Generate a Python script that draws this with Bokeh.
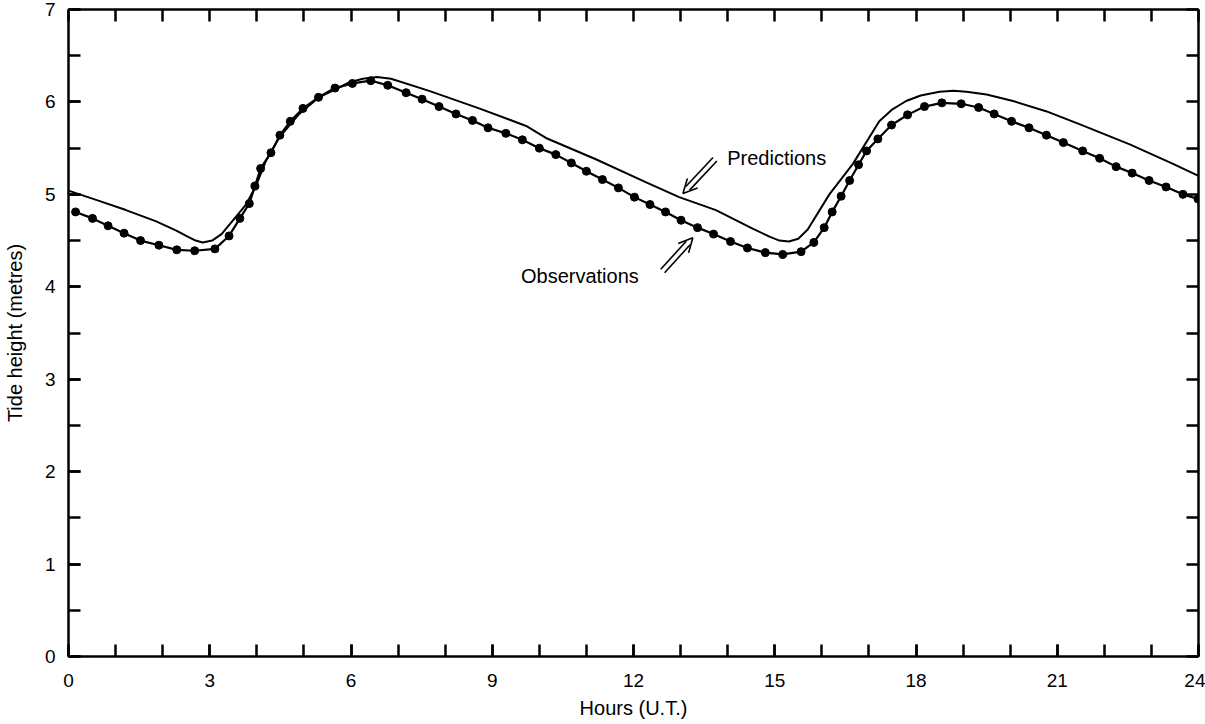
from bokeh.plotting import figure
from bokeh.models import (Range1d, LinearAxis, FixedTicker, Arrow, OpenHead,
                          Label)
from bokeh.embed import file_html
from bokeh.resources import INLINE

# ---------------- data ----------------
pred_hours = [0.0, 0.65, 1.22, 1.85, 2.28, 2.50, 2.70, 2.85, 3.05, 3.25, 3.48,
              3.77, 3.98, 4.19, 4.47, 4.90, 5.32, 5.96, 6.25, 6.55, 6.85, 7.66,
              8.72, 9.72, 10.14, 11.20, 12.27, 12.97, 13.75, 14.53, 14.90,
              15.10, 15.30, 15.50, 15.70, 16.16, 16.66, 17.22, 17.50, 17.79,
              18.10, 18.50, 18.80, 19.07, 19.50, 20.06, 20.76, 21.47, 22.54,
              23.46, 24.0]
pred_height = [5.04, 4.93, 4.83, 4.71, 4.61, 4.55, 4.50, 4.48, 4.50, 4.57, 4.71,
               4.89, 5.09, 5.36, 5.61, 5.87, 6.05, 6.21, 6.25, 6.27, 6.25, 6.12,
               5.93, 5.74, 5.61, 5.38, 5.13, 4.97, 4.83, 4.63, 4.54,
               4.50, 4.49, 4.52, 4.62, 5.00, 5.33, 5.79, 5.92, 6.01,
               6.07, 6.11, 6.12, 6.11, 6.08, 6.01, 5.90, 5.76, 5.54,
               5.33, 5.20]

obs_hours = [0.15, 0.51, 0.84, 1.18, 1.53, 1.92, 2.30, 2.68, 3.11, 3.41, 3.64,
             3.84, 3.96, 4.08, 4.30, 4.49, 4.71, 4.98, 5.31, 5.66, 6.03, 6.42,
             6.78, 7.17, 7.51, 7.87, 8.23, 8.58, 8.91, 9.29, 9.64, 10.00, 10.35,
             10.68, 11.00, 11.34, 11.68, 12.02, 12.35, 12.68, 13.01, 13.36,
             13.70, 14.06, 14.42, 14.80, 15.17, 15.56, 15.83, 16.05, 16.22,
             16.41, 16.59, 16.78, 16.95, 17.19, 17.48, 17.82, 18.18, 18.55,
             18.96, 19.33, 19.66, 20.03, 20.40, 20.77, 21.13, 21.54, 21.90,
             22.25, 22.59, 22.95, 23.31, 23.67, 23.99]
obs_height = [4.81, 4.74, 4.66, 4.58, 4.50, 4.45, 4.40, 4.39, 4.41, 4.55, 4.74,
              4.90, 5.09, 5.28, 5.45, 5.64, 5.79, 5.93, 6.05, 6.15, 6.20, 6.23,
              6.18, 6.10, 6.03, 5.95, 5.87, 5.80, 5.72, 5.66, 5.59, 5.50, 5.43,
              5.34, 5.25, 5.16, 5.07, 4.97, 4.89, 4.81, 4.72, 4.64,
              4.57, 4.49, 4.42, 4.37, 4.35, 4.38, 4.48, 4.64, 4.81,
              4.98, 5.15, 5.32, 5.47, 5.60, 5.75, 5.86, 5.95, 5.99,
              5.98, 5.94, 5.87, 5.79, 5.72, 5.64, 5.56, 5.47, 5.39,
              5.30, 5.23, 5.15, 5.08, 5.00, 4.95]

x_major_ticks = [0, 3, 6, 9, 12, 15, 18, 21, 24]
x_minor_ticks = list(range(0, 25))
y_major_ticks = [0, 1, 2, 3, 4, 5, 6, 7]
y_minor_ticks = [0, 0.5, 1, 1.5, 2, 2.5, 3, 3.5, 4, 4.5, 5, 5.5, 6, 6.5, 7]

label_texts = ["Predictions", "Observations"]
label_x = [13.99, 9.61]
label_y = [5.39, 4.12]

# arrows: tail -> tip
arrow_tail_x = [13.73, 12.62]
arrow_tail_y = [5.38, 4.17]
arrow_tip_x = [13.05, 13.26]
arrow_tip_y = [5.01, 4.53]

# ---------------- figure ----------------
FW, FH = 1130, 647
p = figure(frame_width=FW, frame_height=FH, output_backend="svg",
           toolbar_location=None, x_range=Range1d(0, 24), y_range=Range1d(0, 7),
           min_border_left=68, min_border_right=7, min_border_top=9,
           min_border_bottom=68, x_axis_label="Hours (U.T.)",
           y_axis_label="Tide height (metres)")
p.xgrid.visible = False
p.ygrid.visible = False
p.outline_line_color = None
p.background_fill_color = "white"
p.border_fill_color = "white"

FONT = "Liberation Sans"
TICK_LEN = 12


def style_axis(ax):
    ax.axis_line_width = 2.5
    ax.axis_line_color = "black"
    ax.major_tick_in = TICK_LEN
    ax.major_tick_out = 0
    ax.minor_tick_in = TICK_LEN
    ax.minor_tick_out = 0
    ax.major_tick_line_width = 2.5
    ax.minor_tick_line_width = 2.5
    ax.major_tick_line_color = "black"
    ax.minor_tick_line_color = "black"
    ax.major_label_text_font = FONT
    ax.major_label_text_font_size = "19px"
    ax.major_label_text_color = "black"
    ax.axis_label_text_font = FONT
    ax.axis_label_text_font_size = "20px"
    ax.axis_label_text_font_style = "normal"
    ax.axis_label_text_color = "black"


xb = p.xaxis[0]
xb.ticker = FixedTicker(ticks=x_major_ticks, minor_ticks=x_minor_ticks)
style_axis(xb)
xb.major_label_standoff = 17
xb.axis_label_standoff = 7

yl = p.yaxis[0]
yl.ticker = FixedTicker(ticks=y_major_ticks, minor_ticks=y_minor_ticks)
style_axis(yl)
yl.major_label_standoff = 13
yl.axis_label_standoff = 16

# top and right frame axes: only minor ticks, so no labels at all
xt = LinearAxis(ticker=FixedTicker(ticks=[], minor_ticks=x_minor_ticks))
style_axis(xt)
xt.major_label_standoff = 0
p.add_layout(xt, "above")

yr = LinearAxis(ticker=FixedTicker(ticks=[], minor_ticks=y_minor_ticks))
style_axis(yr)
yr.major_label_standoff = 0
p.add_layout(yr, "right")

# ---------------- series ----------------
p.line(pred_hours, pred_height, line_color="black", line_width=2)
p.line(obs_hours, obs_height, line_color="black", line_width=2.2)
p.scatter(obs_hours, obs_height, size=8, fill_color="black",
          line_color="black")

# ---------------- annotations ----------------
sx = FW / 24.0
sy = FH / 7.0
for tx, ty, hx, hy in zip(arrow_tail_x, arrow_tail_y, arrow_tip_x, arrow_tip_y):
    dxp = (hx - tx) * sx
    dyp = (hy - ty) * sy
    L = (dxp ** 2 + dyp ** 2) ** 0.5
    ux, uy = dxp / L, dyp / L
    nx, ny = -uy, ux
    off = 2.6
    end_back = 7.0
    for s in (-1, 1):
        x0 = tx + s * off * nx / sx
        y0 = ty + s * off * ny / sy
        x1 = hx - end_back * ux / sx + s * off * nx / sx
        y1 = hy - end_back * uy / sy + s * off * ny / sy
        p.segment(x0=[x0], y0=[y0], x1=[x1], y1=[y1], line_color="black",
                  line_width=1.6)
    p.add_layout(Arrow(x_start=tx, y_start=ty, x_end=hx, y_end=hy,
                       line_alpha=0,
                       end=OpenHead(size=14, line_width=1.6,
                                    line_color="black")))

for t, lx, ly in zip(label_texts, label_x, label_y):
    p.add_layout(Label(x=lx, y=ly, text=t, text_font=FONT,
                       text_font_size="20px", text_color="black",
                       text_baseline="alphabetic", text_align="left"))

open("out.html", "w").write(file_html(p, INLINE))
